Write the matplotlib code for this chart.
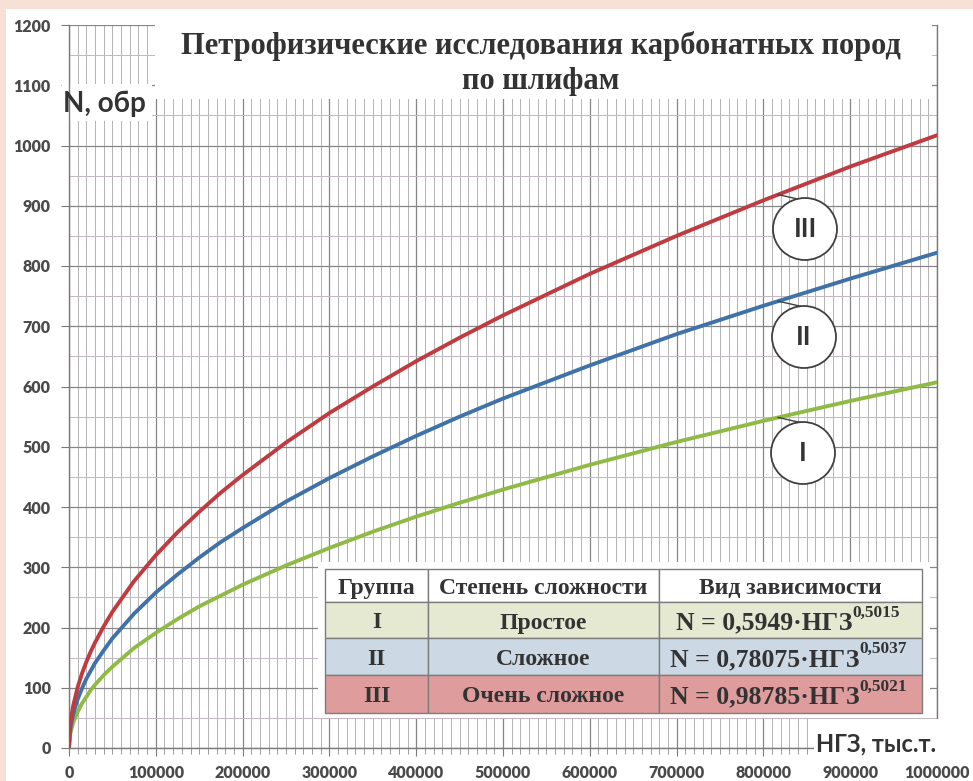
import numpy as np
import matplotlib
matplotlib.use("Agg")
import matplotlib.pyplot as plt
from matplotlib.patches import Rectangle, Ellipse
from matplotlib.ticker import MultipleLocator, FuncFormatter

# ---------------- data ----------------
ngz = [0, 1000, 2000, 3000, 5000, 10000, 15000, 20000, 25000, 30000,
       40000, 50000, 75000, 100000, 125000, 150000, 175000, 200000, 250000,
       300000, 350000, 400000, 450000, 500000, 600000, 700000, 800000,
       900000, 1000000]
group_I = [0, 19, 27, 33, 43, 60, 74, 85, 96, 105, 121, 135, 166, 191, 214,
           235, 253, 271, 303, 332, 359, 384, 407, 429, 470, 508, 543, 576,
           607]
group_II = [0, 25, 36, 44, 57, 81, 99, 115, 128, 141, 162, 182, 223, 258,
            288, 316, 342, 365, 409, 448, 484, 518, 550, 580, 635, 687, 734,
            779, 822]
group_III = [0, 32, 45, 55, 71, 101, 124, 143, 160, 175, 202, 226, 277, 320,
             358, 392, 424, 453, 507, 556, 600, 642, 681, 718, 787, 850, 909,
             965, 1017]

group_names = ["I", "II", "III"]
complexity = ["Простое", "Сложное", "Очень сложное"]
formula_main = ["N = 0,5949·НГЗ", "N = 0,78075·НГЗ", "N = 0,98785·НГЗ"]
formula_exp = ["0,5015", "0,5037", "0,5021"]
header = ["Группа", "Степень сложности", "Вид зависимости"]
title_line1 = "Петрофизические исследования карбонатных пород"
title_line2 = "по шлифам"
ylabel_text = "N, обр"
xlabel_text = "НГЗ, тыс.т."

# ---------------- style ----------------
col_red = "#bf3b3f"
col_blue = "#3f72a8"
col_green = "#8fba45"
row_colors = ["#e5e9d1", "#ccd9e5", "#de9c9d"]
sans = ["Lato", "Open Sans", "DejaVu Sans"]
serif = ["Liberation Serif", "DejaVu Serif"]
txt_dark = "#333333"

W, H = 973, 781
fig = plt.figure(figsize=(W / 100, H / 100), dpi=100)
fig.patch.set_facecolor("#f7e0d5")
fig.add_artist(Rectangle((6 / W, 0), 1, 1 - 9 / H, transform=fig.transFigure,
                         facecolor="white", edgecolor="none", zorder=-5))

L, R, B, T = 69, 937, 748, 25
ax = fig.add_axes([L / W, (H - B) / H, (R - L) / W, (B - T) / H])
ax.set_facecolor("none")
ax.set_xlim(0, 1000000)
ax.set_ylim(0, 1200)

def fx(px):
    return (px - L) / (R - L)

def fy(py):
    return (B - py) / (B - T)

ax.xaxis.set_major_locator(MultipleLocator(100000))
ax.xaxis.set_minor_locator(MultipleLocator(10000))
ax.yaxis.set_major_locator(MultipleLocator(100))
ax.yaxis.set_minor_locator(MultipleLocator(50))
fmt = FuncFormatter(lambda v, p: f"{int(round(v))}")
ax.xaxis.set_major_formatter(fmt)
ax.yaxis.set_major_formatter(fmt)

ax.set_axisbelow(True)
ax.grid(which="major", color="#868686", lw=0.9)
ax.grid(which="minor", axis="x", color="#b3b3b3", lw=0.7)
ax.grid(which="minor", axis="y", color="#c4b8c2", lw=0.75)

for s in ["left", "bottom", "right"]:
    ax.spines[s].set_color("#7a7a7a")
    ax.spines[s].set_linewidth(1.0)
ax.spines["top"].set_visible(False)

ax.tick_params(which="major", direction="out", length=6, color="#7a7a7a",
               labelsize=11.5, labelcolor="#4a4a4a")
ax.tick_params(axis="x", which="major", pad=6)
ax.tick_params(axis="y", which="major", pad=7)
ax.tick_params(axis="x", which="minor", direction="out", length=4, color="#8a8a8a")
ax.tick_params(axis="y", which="minor", length=0)
for lab in ax.get_xticklabels() + ax.get_yticklabels():
    lab.set_fontfamily(sans)
    lab.set_fontweight("heavy")

# ---------------- curves ----------------
ax.plot(ngz, group_I, color=col_green, lw=2.8, zorder=3, solid_capstyle="round")
ax.plot(ngz, group_II, color=col_blue, lw=2.8, zorder=3, solid_capstyle="round")
ax.plot(ngz, group_III, color=col_red, lw=2.8, zorder=3, solid_capstyle="round")

# ---------------- white boxes covering grid ----------------
def white_box(x0, y0, x1, y1, z=2.5):
    ax.add_patch(Rectangle((fx(x0), fy(y1)), fx(x1) - fx(x0), fy(y0) - fy(y1),
                           transform=ax.transAxes, facecolor="white",
                           edgecolor="none", zorder=z, clip_on=False))

white_box(155, 15, 932, 99)        # title
white_box(62, 84, 152, 121)        # y label
white_box(814, 719, 973, 762, z=4) # x label

fig.text(541 / W, 1 - 46 / H, title_line1, ha="center", va="center",
         fontsize=22, fontweight="bold", family=serif, color=txt_dark)
fig.text(541 / W, 1 - 81 / H, title_line2, ha="center", va="center",
         fontsize=22, fontweight="bold", family=serif, color=txt_dark)

ax.text(fx(63), fy(104), ylabel_text, transform=ax.transAxes, ha="left",
        va="center", fontsize=20, fontweight="bold", family=sans,
        color=txt_dark, zorder=6, clip_on=False)
ax.text(fx(816), fy(744), xlabel_text, transform=ax.transAxes, ha="left",
        va="center", fontsize=17, fontweight="bold", family=sans,
        color=txt_dark, zorder=6, clip_on=False)

# ---------------- circle labels ----------------
px_x = 1000000 / (R - L)
px_y = 1200 / (B - T)
x_lead = 817000
for name, series, cpx, cpy in [("III", group_III, 805, 229),
                               ("II", group_II, 804, 337),
                               ("I", group_I, 803, 453)]:
    cx = (cpx - L) * px_x
    cy = (B - cpy) * px_y
    yc = np.interp(x_lead, ngz, series)
    ax.plot([x_lead, x_lead + 22 * px_x], [yc, yc - 5 * px_y],
            color="#404040", lw=1.0, zorder=4)
    ax.add_patch(Ellipse((cx, cy), 64 * px_x, 62 * px_y, facecolor="white",
                         edgecolor="#404040", lw=1.3, zorder=5))
    ax.text(cx, cy, name, ha="center", va="center", fontsize=19,
            fontweight="bold", family=sans, color=txt_dark, zorder=6)

# ---------------- table ----------------
cols = [325, 428, 659, 922]
rows = [569, 602, 638, 675, 713]
white_box(318, 562, 930, 718, z=4)
for r in range(4):
    fc = "white" if r == 0 else row_colors[r - 1]
    for c in range(3):
        ax.add_patch(Rectangle((fx(cols[c]), fy(rows[r + 1])),
                               fx(cols[c + 1]) - fx(cols[c]),
                               fy(rows[r]) - fy(rows[r + 1]),
                               transform=ax.transAxes, facecolor=fc,
                               edgecolor="#7d7d7d", lw=1.0, zorder=5,
                               clip_on=False))

def cell_center(r, c):
    return (fx((cols[c] + cols[c + 1]) / 2),
            fy((rows[r] + rows[r + 1]) / 2 + 3))

tkw = dict(transform=ax.transAxes, va="center", fontsize=17,
           fontweight="bold", family=serif, color=txt_dark, zorder=6,
           clip_on=False)
for c in range(3):
    x, y = cell_center(0, c)
    ax.text(x, y, header[c], ha="center", **tkw)
for i in range(3):
    x, y = cell_center(i + 1, 0)
    ax.text(x, y, group_names[i], ha="center", **tkw)
    x, y = cell_center(i + 1, 1)
    ax.text(x, y, complexity[i], ha="center", **tkw)
    x, y = cell_center(i + 1, 2)
    fkw = dict(tkw)
    fkw["fontsize"] = 18.5
    t = ax.text(x - 0.03, y, formula_main[i], ha="center", **fkw)
    ax.annotate(formula_exp[i], xy=(1.0, 0.6), xycoords=t, ha="left",
                va="bottom", fontsize=12.5, fontweight="bold", family=serif,
                color=txt_dark, zorder=6, annotation_clip=False)

fig.savefig("out.png", dpi=100, facecolor=fig.get_facecolor())
